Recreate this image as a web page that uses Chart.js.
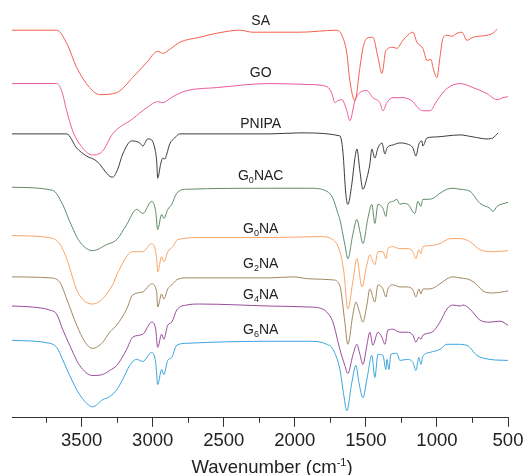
<!DOCTYPE html>
<html>
<head>
<meta charset="utf-8">
<script src="https://cdn.jsdelivr.net/npm/chart.js@4/dist/chart.umd.min.js"></script>
<style>
  html, body { margin: 0; padding: 0; background: #fff; }
  #wrap { width: 527px; height: 475px; }
</style>
</head>
<body>
<div id="wrap"><canvas id="ftir"></canvas></div>
<script>
// — spectra: [wavenumber (cm-1), offset transmittance (a.u.)] —
const SA = [
  [3990,385],[3676,385],[3605,372],[3535,348],[3444,328],[3373,321],[3253,323],[3141,338],
  [3042,353],[2965,364],[2929,362],[2880,366],[2810,373],[2669,378],[2549,382],[2387,385],
  [2296,383],[2176,383],[1965,383],[1704,385],[1669,380],[1634,362],[1613,335],[1577,315],
  [1542,348],[1521,367],[1493,377],[1451,378],[1415,358],[1387,342],[1359,365],[1310,368],
  [1282,367],[1239,375],[1169,383],[1141,373],[1099,367],[1070,355],[1042,356],[1028,348],
  [1000,338],[979,358],[958,377],[930,380],[894,379],[859,382],[824,383],[789,375],
  [746,378],[648,380],[606,382],[577,386]
];
const GO = [
  [3990,332],[3676,332],[3641,325],[3605,305],[3563,285],[3493,268],[3422,261],[3352,265],
  [3282,282],[3141,297],[3042,308],[2965,314],[2929,313],[2880,317],[2831,321],[2760,325],
  [2549,328],[2176,332],[1894,331],[1775,329],[1739,322],[1718,313],[1697,315],[1669,316],
  [1634,305],[1613,295],[1577,315],[1542,323],[1493,325],[1451,318],[1401,313],[1380,305],
  [1352,313],[1310,318],[1239,318],[1169,314],[1134,308],[1099,305],[1049,305],[1000,315],
  [930,327],[838,332],[746,328],[648,322],[577,316],[535,318],[500,319]
];
const PNIPA = [
  [3990,282],[3605,282],[3535,268],[3465,260],[3394,255],[3303,240],[3282,239],[3246,247],
  [3211,262],[3148,275],[3091,273],[3070,270],[3035,277],[3007,276],[2986,268],[2972,255],
  [2965,238],[2944,252],[2929,258],[2915,257],[2901,262],[2880,272],[2845,278],[2810,282],
  [2176,282],[1965,283],[1683,280],[1662,265],[1641,222],[1627,212],[1599,232],[1577,258],
  [1563,267],[1542,245],[1521,227],[1493,238],[1472,252],[1458,267],[1437,258],[1415,268],
  [1387,273],[1366,262],[1352,268],[1310,271],[1261,273],[1211,272],[1169,268],[1148,260],
  [1127,272],[1106,275],[1099,270],[1070,278],[1000,279],[930,280],[838,281],[746,279],
  [648,277],[606,278],[570,283]
];
const G0NAC = [
  [3990,229],[3704,226],[3634,212],[3584,195],[3514,175],[3422,166],[3324,172],[3253,177],
  [3183,192],[3113,207],[3070,203],[3007,215],[2979,205],[2965,187],[2937,202],[2922,198],
  [2894,207],[2866,212],[2831,223],[2760,227],[2176,228],[1894,228],[1775,225],[1732,218],
  [1697,203],[1683,197],[1648,172],[1627,158],[1592,182],[1563,197],[1542,185],[1521,173],
  [1486,198],[1458,212],[1437,193],[1415,212],[1380,208],[1359,200],[1345,212],[1310,215],
  [1282,217],[1261,212],[1239,213],[1204,212],[1155,203],[1134,215],[1113,210],[1099,217],
  [1070,217],[1028,218],[979,223],[930,227],[887,228],[838,227],[768,225],[697,213],
  [627,208],[606,205],[577,210],[500,214]
];
const G0NA = [
  [3990,181],[3725,179],[3655,173],[3605,158],[3528,125],[3422,113],[3282,132],[3253,142],
  [3141,165],[3070,165],[3007,173],[2972,158],[2965,145],[2937,160],[2922,155],[2894,165],
  [2859,170],[2824,177],[2669,179],[2176,179],[1824,180],[1732,177],[1683,165],[1655,145],
  [1627,108],[1592,135],[1563,158],[1528,130],[1493,152],[1472,162],[1451,155],[1437,152],
  [1415,165],[1380,165],[1359,158],[1345,168],[1310,170],[1261,168],[1211,168],[1169,165],
  [1148,158],[1127,167],[1113,163],[1099,170],[1049,171],[979,173],[908,178],[838,178],
  [768,175],[697,167],[606,165],[500,166]
];
const G2NA = [
  [3990,140],[3725,139],[3655,135],[3605,118],[3535,92],[3465,73],[3422,69],[3352,75],
  [3303,85],[3253,92],[3183,108],[3141,122],[3070,125],[3007,133],[2972,125],[2965,110],
  [2937,123],[2922,118],[2894,128],[2866,132],[2831,137],[2760,139],[2176,139],[2015,140],
  [1894,138],[1732,137],[1683,131],[1648,95],[1627,73],[1592,102],[1570,115],[1549,107],
  [1521,95],[1493,112],[1472,128],[1437,115],[1415,132],[1380,128],[1359,120],[1345,128],
  [1310,132],[1261,130],[1211,130],[1169,127],[1148,120],[1127,128],[1113,123],[1099,128],
  [1049,128],[979,133],[930,138],[887,140],[838,139],[768,137],[718,132],[676,126],
  [606,124],[500,126]
];
const G4NA = [
  [3990,111],[3845,110],[3725,107],[3676,103],[3634,88],[3584,72],[3514,52],[3422,42],
  [3352,43],[3303,47],[3253,52],[3183,68],[3141,80],[3070,83],[3007,95],[2979,88],
  [2965,70],[2937,83],[2922,78],[2894,92],[2866,95],[2831,107],[2760,112],[2669,113],
  [2176,111],[1894,110],[1824,109],[1775,105],[1732,95],[1683,68],[1648,52],[1627,44],
  [1592,62],[1563,73],[1542,63],[1521,53],[1493,72],[1472,85],[1451,72],[1415,85],
  [1387,80],[1366,73],[1345,87],[1310,88],[1261,85],[1211,85],[1169,82],[1148,75],
  [1127,80],[1113,78],[1099,82],[1035,85],[979,95],[930,108],[887,112],[838,111],
  [817,112],[768,108],[697,97],[627,95],[556,96],[500,92]
];
const G6NA = [
  [3990,77],[3725,74],[3676,70],[3634,58],[3584,42],[3514,23],[3444,12],[3422,11],
  [3352,18],[3303,21],[3253,28],[3211,38],[3162,52],[3113,58],[3070,56],[3007,65],
  [2979,55],[2965,33],[2937,48],[2922,43],[2894,57],[2866,60],[2831,72],[2760,74],
  [2176,76],[1894,76],[1775,73],[1732,68],[1683,48],[1655,22],[1634,7],[1599,35],
  [1570,52],[1549,35],[1521,20],[1493,38],[1458,62],[1437,40],[1415,63],[1380,62],
  [1359,48],[1352,58],[1338,48],[1324,63],[1282,64],[1261,57],[1211,58],[1169,55],
  [1148,47],[1127,60],[1113,53],[1099,61],[1049,65],[979,68],[930,73],[859,73],
  [789,72],[718,62],[627,58],[500,57]
];

const seriesNames  = ['SA', 'GO', 'PNIPA', 'G0NAC', 'G0NA', 'G2NA', 'G4NA', 'G6NA'];
const seriesData   = [SA, GO, PNIPA, G0NAC, G0NA, G2NA, G4NA, G6NA];
const seriesColors = ['#f2604f', '#ee5b9c', '#3c3c3c', '#5f8b68', '#f8a467', '#a08860', '#9a4c9a', '#3ba5dd'];

const majorTicks = [3500, 3000, 2500, 2000, 1500, 1000, 500];
const minorTicks = [3750, 3250, 2750, 2250, 1750, 1250, 750];

// where the name of each curve is written (x in cm-1, y in a.u.)
const labelX = 2240;
const labelY = [395, 343, 293, 241, 189, 154, 123, 88];

const FONT = "'Liberation Sans', Arial, sans-serif";

// — minor ticks, curve names and axis title —
const decor = {
  id: 'decor',
  afterDraw(chart) {
    const ctx = chart.ctx;
    const xs = chart.scales.x, ys = chart.scales.y;
    const bottom = chart.chartArea.bottom;
    ctx.save();
    ctx.strokeStyle = '#333';
    ctx.lineWidth = 1;
    minorTicks.forEach(v => {
      const px = Math.round(xs.getPixelForValue(v)) + 0.5;
      ctx.beginPath();
      ctx.moveTo(px, bottom);
      ctx.lineTo(px, bottom + 5);
      ctx.stroke();
    });

    ctx.fillStyle = '#222';
    ctx.textBaseline = 'alphabetic';
    seriesNames.forEach((name, i) => {
      const cx = xs.getPixelForValue(labelX);
      const by = ys.getPixelForValue(labelY[i]) + 5;
      const m = name.match(/^G(\d)(.*)$/);
      if (!m) {
        ctx.font = `14px ${FONT}`;
        ctx.textAlign = 'center';
        ctx.fillText(name, cx, by);
        return;
      }
      ctx.font = `14px ${FONT}`;
      const wG = ctx.measureText('G').width;
      const wRest = ctx.measureText(m[2]).width;
      ctx.font = `9px ${FONT}`;
      const wSub = ctx.measureText(m[1]).width;
      let x = cx - (wG + wSub + wRest) / 2;
      ctx.textAlign = 'left';
      ctx.font = `14px ${FONT}`;
      ctx.fillText('G', x, by);
      x += wG;
      ctx.font = `9px ${FONT}`;
      ctx.fillText(m[1], x, by + 3);
      x += wSub;
      ctx.font = `14px ${FONT}`;
      ctx.fillText(m[2], x, by);
    });

    // axis title with superscript
    const t1 = 'Wavenumber (cm', t2 = '-1', t3 = ')';
    ctx.font = `18.5px ${FONT}`;
    const w1 = ctx.measureText(t1).width, w3 = ctx.measureText(t3).width;
    ctx.font = `11px ${FONT}`;
    const w2 = ctx.measureText(t2).width;
    const cx = (chart.chartArea.left + chart.chartArea.right) / 2 + 12;
    const by = chart.height - 2;
    let x = cx - (w1 + w2 + w3) / 2;
    ctx.textAlign = 'left';
    ctx.font = `18.5px ${FONT}`;
    ctx.fillText(t1, x, by);
    x += w1;
    ctx.font = `11px ${FONT}`;
    ctx.fillText(t2, x, by - 7);
    x += w2;
    ctx.font = `18.5px ${FONT}`;
    ctx.fillText(t3, x, by);
    ctx.restore();
  }
};

const chart = new Chart(document.getElementById('ftir'), {
  type: 'line',
  data: {
    datasets: seriesNames.map((name, i) => ({
      label: name,
      data: seriesData[i].map(([x, y]) => ({ x, y })),
      borderColor: seriesColors[i],
      borderWidth: 1,
      pointRadius: 0,
      cubicInterpolationMode: 'monotone',
      fill: false
    }))
  },
  options: {
    responsive: true,
    maintainAspectRatio: false,
    animation: false,
    layout: { padding: { left: 12, right: 19, top: 0, bottom: 20 } },
    scales: {
      x: {
        type: 'linear',
        reverse: true,
        min: 500,
        max: 3990,
        afterBuildTicks: s => { s.ticks = majorTicks.map(v => ({ value: v })); },
        grid: { drawOnChartArea: false, tickLength: 9, color: '#333', tickColor: '#333' },
        border: { color: '#333', width: 1 },
        ticks: {
          autoSkip: false,
          maxRotation: 0,
          padding: 3,
          color: '#222',
          font: { family: FONT, size: 18.5 },
          callback: v => String(v)
        }
      },
      y: { display: false, min: 0, max: 415 }
    },
    plugins: {
      legend: { display: false },
      tooltip: { enabled: false }
    }
  },
  plugins: [decor]
});
</script>
</body>
</html>
